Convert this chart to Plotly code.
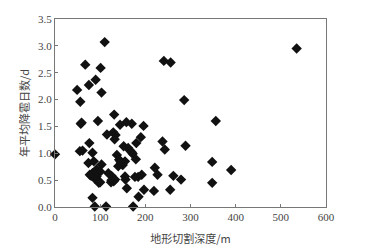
import plotly.graph_objects as go

depth = [0, 110, 67, 49, 75, 90, 101, 103, 56, 57, 59, 95, 131, 158, 170, 196, 144,
         115, 129, 134, 132, 190, 180, 76, 55, 61, 83, 137, 152, 162, 166, 172, 146,
         150, 155, 142, 148, 179, 74, 86, 103, 77, 83, 92, 89, 100, 80, 95, 97, 118,
         125, 129, 124, 133, 155, 156, 177, 184, 192, 159, 197, 185, 83, 88, 113, 173,
         221, 227, 219, 238, 243, 241, 256, 255, 262, 279, 286, 289, 535, 356, 348, 390,
         348, 100, 92, 140, 145, 125, 130, 170]
hail_days = [0.98, 3.07, 2.65, 2.18, 2.27, 2.37, 2.59, 2.13, 1.96, 1.55, 1.57, 1.60,
             1.72, 1.58, 1.55, 1.51, 1.53, 1.35, 1.39, 1.34, 1.26, 1.30, 1.19, 1.19,
             1.04, 1.05, 1.01, 0.97, 1.13, 1.10, 1.05, 0.99, 0.82, 0.78, 0.85, 0.88,
             0.80, 0.89, 0.82, 0.85, 0.79, 0.60, 0.63, 0.57, 0.52, 0.66, 0.58, 0.62,
             0.45, 0.63, 0.58, 0.52, 0.46, 0.51, 0.57, 0.51, 0.56, 0.56, 0.60, 0.35,
             0.32, 0.19, 0.17, 0.01, 0.01, 0.01, 0.73, 0.60, 0.30, 1.22, 1.07, 2.72,
             2.69, 0.32, 0.58, 0.51, 1.99, 1.14, 2.95, 1.60, 0.84, 0.69, 0.45, 0.46,
             0.70, 0.76, 0.85, 0.50, 0.48, 1.02]

x_ticks = [0, 100, 200, 300, 400, 500, 600]
y_ticks = [0.0, 0.5, 1.0, 1.5, 2.0, 2.5, 3.0, 3.5]

fig = go.Figure(go.Scatter(
    x=depth, y=hail_days, mode="markers",
    marker=dict(symbol="diamond", size=8, color="#111111", line=dict(width=0)),
    cliponaxis=False, showlegend=False, hoverinfo="skip"))

tick_font = dict(family="Liberation Serif, Times New Roman, serif", size=11, color="#444444")
title_font = dict(family="Noto Sans CJK SC, sans-serif", size=11, color="#444444")

fig.update_layout(
    width=381, height=249,
    margin=dict(l=55, r=55, t=19, b=42, autoexpand=False),
    paper_bgcolor="white", plot_bgcolor="white",
    xaxis=dict(range=[0, 600], tickvals=x_ticks, ticks="inside", ticklen=3,
               tickcolor="#777777", showline=True, linecolor="#777777", linewidth=1,
               mirror=True, showgrid=False, zeroline=False, tickfont=tick_font,
               automargin=False,
               title=dict(text="地形切割深度/m", font=title_font, standoff=13)),
    yaxis=dict(range=[0, 3.5], tickvals=y_ticks, tickformat=".1f", ticks="inside",
               ticklen=3, tickcolor="#777777", showline=True, linecolor="#777777",
               linewidth=1, mirror=True, showgrid=False, zeroline=False,
               tickfont=tick_font, automargin=False,
               title=dict(text="年平均降雹日数/d", font=title_font, standoff=6)),
)

fig.write_html("out.html", config={"displayModeBar": False},
               post_script="document.body.style.margin='0';")
